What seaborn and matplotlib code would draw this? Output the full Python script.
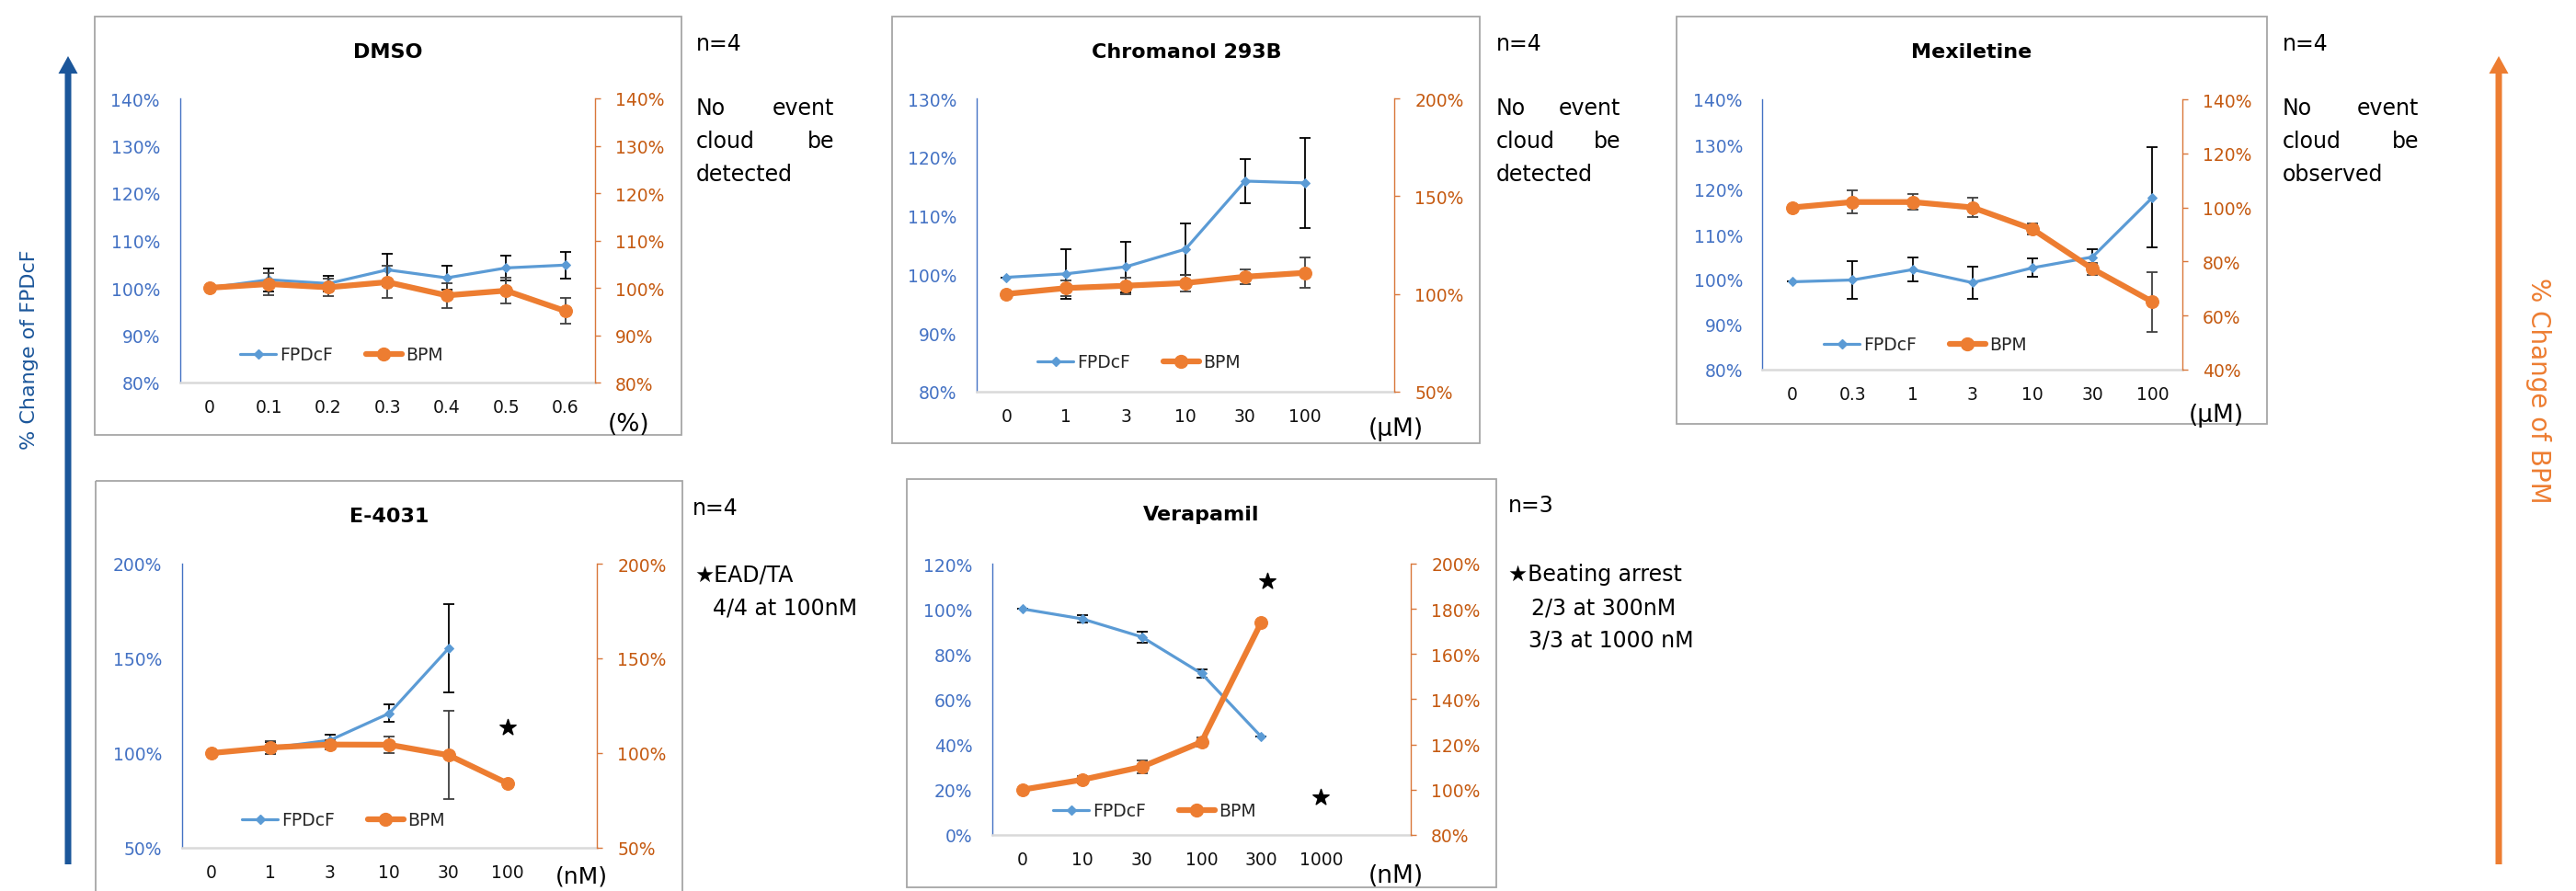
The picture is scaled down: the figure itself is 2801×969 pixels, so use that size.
import numpy as np
import matplotlib
matplotlib.use("Agg")
import matplotlib.pyplot as plt
import seaborn as sns
from matplotlib.lines import Line2D
from matplotlib.patches import Rectangle, FancyArrow
from matplotlib.transforms import Affine2D

# ---------------- data ----------------
dmso_cats = ["0", "0.1", "0.2", "0.3", "0.4", "0.5", "0.6"]
dmso_fpd = [100, 101.7, 100.9, 103.8, 102.1, 104.2, 104.8]
dmso_fpd_err = [0, 2.4, 1.6, 3.4, 2.5, 2.6, 2.8]
dmso_bpm = [100, 100.8, 100.1, 101.2, 98.4, 99.4, 95.1]
dmso_bpm_err = [0, 2.3, 1.8, 3.4, 2.6, 2.7, 2.7]

chrom_cats = ["0", "1", "3", "10", "30", "100"]
chrom_fpd = [99.5, 100.1, 101.3, 104.3, 115.9, 115.6]
chrom_fpd_err = [0, 4.2, 4.3, 4.4, 3.7, 7.7]
chrom_bpm = [100, 103.0, 104.2, 105.6, 108.8, 110.8]
chrom_bpm_err = [0, 4.1, 4.2, 4.2, 3.8, 7.7]

mex_cats = ["0", "0.3", "1", "3", "10", "30", "100"]
mex_fpd = [99.5, 99.9, 102.2, 99.3, 102.6, 105.0, 118.2]
mex_fpd_err = [0, 4.2, 2.6, 3.6, 2.0, 1.7, 11.1]
mex_bpm = [100, 102.0, 102.0, 100.0, 92.0, 77.3, 65.1]
mex_bpm_err = [0, 4.3, 2.8, 3.7, 2.0, 2.1, 11.1]

e4031_cats = ["0", "1", "3", "10", "30", "100"]
e4031_fpd = [100, 102.7, 106.8, 121.0, 155.3]
e4031_fpd_err = [0, 3.0, 2.9, 4.5, 23.1]
e4031_bpm = [100, 102.9, 104.5, 104.4, 98.9, 83.9]
e4031_bpm_err = [0, 3.2, 2.4, 4.5, 23.3, 0]
e4031_star_x = [5]
e4031_star_y = [113.6]

vera_cats = ["0", "10", "30", "100", "300", "1000"]
vera_fpd = [100, 95.6, 87.6, 71.4, 43.4]
vera_fpd_err = [0, 1.7, 2.5, 1.8, 0]
vera_bpm = [100, 104.4, 110.1, 121.1, 174.1]
vera_bpm_err = [0, 1.5, 2.8, 1.9, 0]
vera_star_x = [4.1, 5.0]
vera_star_y = [112.2, 16.6]

# axis tick values
dmso_lt = [80, 90, 100, 110, 120, 130, 140]; dmso_rt = [80, 90, 100, 110, 120, 130, 140]
chrom_lt = [80, 90, 100, 110, 120, 130];     chrom_rt = [50, 100, 150, 200]
mex_lt = [80, 90, 100, 110, 120, 130, 140];  mex_rt = [40, 60, 80, 100, 120, 140]
e4031_lt = [50, 100, 150, 200];              e4031_rt = [50, 100, 150, 200]
vera_lt = [0, 20, 40, 60, 80, 100, 120];     vera_rt = [80, 100, 120, 140, 160, 180, 200]

# ---------------- style ----------------
sns.set_style("white")
plt.rcParams['font.family'] = ['DejaVu Sans', 'Noto Sans CJK JP']

W, H = 2801, 970
fig = plt.figure(figsize=(W / 100, H / 100), dpi=100)
PX = Affine2D().scale(1 / W, -1 / H).translate(0, 1) + fig.transFigure

BLUE = "#5B9BD5"
ORANGE = "#ED7D31"
LTXT = "#4472C4"
RTXT = "#C55A11"
RSPINE = "#D9773A"
BOX = "#A6A6A6"
ARROW_BLUE = "#1B569A"

TICK_FS = 13.5
TEXT_FS = 17


def add_ax(x0, y0, x1, y1):
    return fig.add_axes([x0 / W, 1 - y1 / H, (x1 - x0) / W, (y1 - y0) / H])


def box(x0, y0, x1, y1):
    fig.add_artist(Rectangle((x0, y0), x1 - x0, y1 - y0, transform=PX,
                             fill=False, edgecolor=BOX, lw=1.3))


def txt(x, y, s, **kw):
    kw.setdefault("fontsize", TEXT_FS)
    kw.setdefault("va", "center")
    kw.setdefault("ha", "left")
    kw.setdefault("color", "black")
    fig.text(x, y, s, transform=PX, **kw)


def panel(ax_px, cats, fp, fp_err, bp, bp_err, lt, rt, leg_xy):
    ax = add_ax(*ax_px)
    ax2 = ax.twinx()
    xf = np.arange(len(fp))
    xb = np.arange(len(bp))
    ax.errorbar(xf, fp, yerr=fp_err, fmt='none', ecolor='black', elinewidth=1.3,
                capsize=4.5, capthick=1.3, zorder=2)
    sns.lineplot(x=xf, y=fp, ax=ax, color=BLUE, linewidth=2.3, marker='D',
                 markersize=5.5, markeredgecolor=BLUE, errorbar=None, legend=False, zorder=3)
    ax2.errorbar(xb, bp, yerr=bp_err, fmt='none', ecolor='#404040', elinewidth=1.3,
                 capsize=4.5, capthick=1.3, zorder=2)
    sns.lineplot(x=xb, y=bp, ax=ax2, color=ORANGE, linewidth=4.5, marker='o',
                 markersize=10, markeredgecolor=ORANGE, errorbar=None, legend=False, zorder=3)

    ax.set_xlim(-0.5, 6.5)
    ax.set_xticks(np.arange(len(cats)))
    ax.set_xticklabels(cats)
    ax.set_ylim(lt[0], lt[-1])
    ax.set_yticks(lt)
    ax.set_yticklabels([f"{v}%" for v in lt])
    ax2.set_ylim(rt[0], rt[-1])
    ax2.set_yticks(rt)
    ax2.set_yticklabels([f"{v}%" for v in rt])
    for a in (ax, ax2):
        a.set_xlabel("")
        a.set_ylabel("")
        a.grid(False)
    ax.set_facecolor("none")

    for s in ("top", "right"):
        ax.spines[s].set_visible(False)
    ax.spines["left"].set_color(LTXT)
    ax.spines["left"].set_linewidth(1.0)
    ax.spines["bottom"].set_color("#D9D9D9")
    ax.spines["bottom"].set_linewidth(1.8)
    for s in ("top", "left", "bottom"):
        ax2.spines[s].set_visible(False)
    ax2.spines["right"].set_color(RSPINE)
    ax2.spines["right"].set_linewidth(1.0)

    ax.tick_params(axis='x', bottom=False, length=0, labelsize=TICK_FS,
                   labelcolor="#111111", pad=12.5)
    ax.tick_params(axis='y', left=False, length=0, labelsize=TICK_FS,
                   labelcolor=LTXT, pad=15.5)
    ax2.tick_params(axis='y', right=True, left=False, labelright=True, labelleft=False,
                    length=4.5, width=1.0, direction='out', color=RSPINE,
                    labelsize=TICK_FS, labelcolor=RTXT, pad=11.5)

    handles = [Line2D([0], [0], color=BLUE, lw=2.3, marker='D', ms=5.5),
               Line2D([0], [0], color=ORANGE, lw=4.5, marker='o', ms=10)]
    ax2.legend(handles, ["FPDcF", "BPM"], loc='center left',
               bbox_to_anchor=(leg_xy[0] / W, 1 - leg_xy[1] / H),
               bbox_transform=fig.transFigure, ncol=2, frameon=False,
               fontsize=TICK_FS, handlelength=2.1, handletextpad=0.2,
               columnspacing=1.9, borderpad=0, borderaxespad=0, numpoints=1)
    return ax, ax2


# ---------------- DMSO ----------------
box(103, 19, 741, 474)
panel((195.5, 108, 647, 417), dmso_cats, dmso_fpd, dmso_fpd_err, dmso_bpm, dmso_bpm_err,
      dmso_lt, dmso_rt, (261, 387))
txt(422, 57, "DMSO", ha="center", fontsize=16, fontweight="bold")
txt(684, 462, "(%)", ha="center", fontsize=19)
txt(757, 48, "n=4")
txt(757, 118, "No"); txt(907, 118, "event", ha="right")
txt(757, 154, "cloud"); txt(907, 154, "be", ha="right")
txt(757, 190, "detected")

# ---------------- Chromanol 293B ----------------
box(970, 19, 1609, 483)
panel((1062, 108, 1516, 427), chrom_cats, chrom_fpd, chrom_fpd_err, chrom_bpm, chrom_bpm_err,
      chrom_lt, chrom_rt, (1128, 395))
txt(1290, 57, "Chromanol 293B", ha="center", fontsize=16, fontweight="bold")
txt(1518, 467, "(μM)", ha="center", fontsize=19)
txt(1627, 48, "n=4")
txt(1627, 118, "No"); txt(1762, 118, "event", ha="right")
txt(1627, 154, "cloud"); txt(1762, 154, "be", ha="right")
txt(1627, 190, "detected")

# ---------------- Mexiletine ----------------
box(1823, 19, 2465, 462)
panel((1916.5, 109, 2373, 403), mex_cats, mex_fpd, mex_fpd_err, mex_bpm, mex_bpm_err,
      mex_lt, mex_rt, (1983, 376))
txt(2144, 57, "Mexiletine", ha="center", fontsize=16, fontweight="bold")
txt(2410, 452, "(μM)", ha="center", fontsize=19)
txt(2482, 48, "n=4")
txt(2482, 118, "No"); txt(2630, 118, "event", ha="right")
txt(2482, 154, "cloud"); txt(2630, 154, "be", ha="right")
txt(2482, 190, "observed")

# ---------------- E-4031 ----------------
box(104, 524, 742, 1010)
ax_e, ax_e2 = panel((197.6, 614, 649, 923), e4031_cats, e4031_fpd, e4031_fpd_err,
                    e4031_bpm, e4031_bpm_err, e4031_lt, e4031_rt, (263, 893))
sns.scatterplot(x=e4031_star_x, y=e4031_star_y, ax=ax_e, marker='*', s=170,
                color='black', edgecolor='black', legend=False, zorder=4)
ax_e.set_xlabel(""); ax_e.set_ylabel("")
txt(423, 562, "E-4031", ha="center", fontsize=16, fontweight="bold")
txt(632, 954, "(nM)", ha="center", fontsize=18)
txt(753, 553, "n=4")
txt(755, 626, "★EAD/TA")
txt(775, 662, "4/4 at 100nM")

# ---------------- Verapamil ----------------
box(986, 522, 1627, 966)
ax_v, ax_v2 = panel((1079, 614, 1534, 909), vera_cats, vera_fpd, vera_fpd_err,
                    vera_bpm, vera_bpm_err, vera_lt, vera_rt, (1145, 883))
sns.scatterplot(x=vera_star_x, y=vera_star_y, ax=ax_v, marker='*', s=170,
                color='black', edgecolor='black', legend=False, zorder=4)
ax_v.set_xlabel(""); ax_v.set_ylabel("")
txt(1306, 560, "Verapamil", ha="center", fontsize=16, fontweight="bold")
txt(1518, 953, "(nM)", ha="center", fontsize=19)
txt(1640, 550, "n=3")
txt(1640, 625, "★Beating arrest")
txt(1665, 662, "2/3 at 300nM")
txt(1662, 697, "3/3 at 1000 nM")

# ---------------- side arrows ----------------
fig.add_artist(FancyArrow(74, 941, 0, -879, width=7, head_width=21, head_length=19,
                          length_includes_head=True, transform=PX, color=ARROW_BLUE, lw=0))
txt(32, 380, "% Change of FPDcF", ha="center", rotation=90, color=ARROW_BLUE, fontsize=16)
fig.add_artist(FancyArrow(2717, 941, 0, -879, width=7, head_width=21, head_length=19,
                          length_includes_head=True, transform=PX, color=ORANGE, lw=0))
txt(2760, 425, "% Change of BPM", ha="center", rotation=-90, color=ORANGE, fontsize=20)

fig.savefig("out.png", dpi=100)
